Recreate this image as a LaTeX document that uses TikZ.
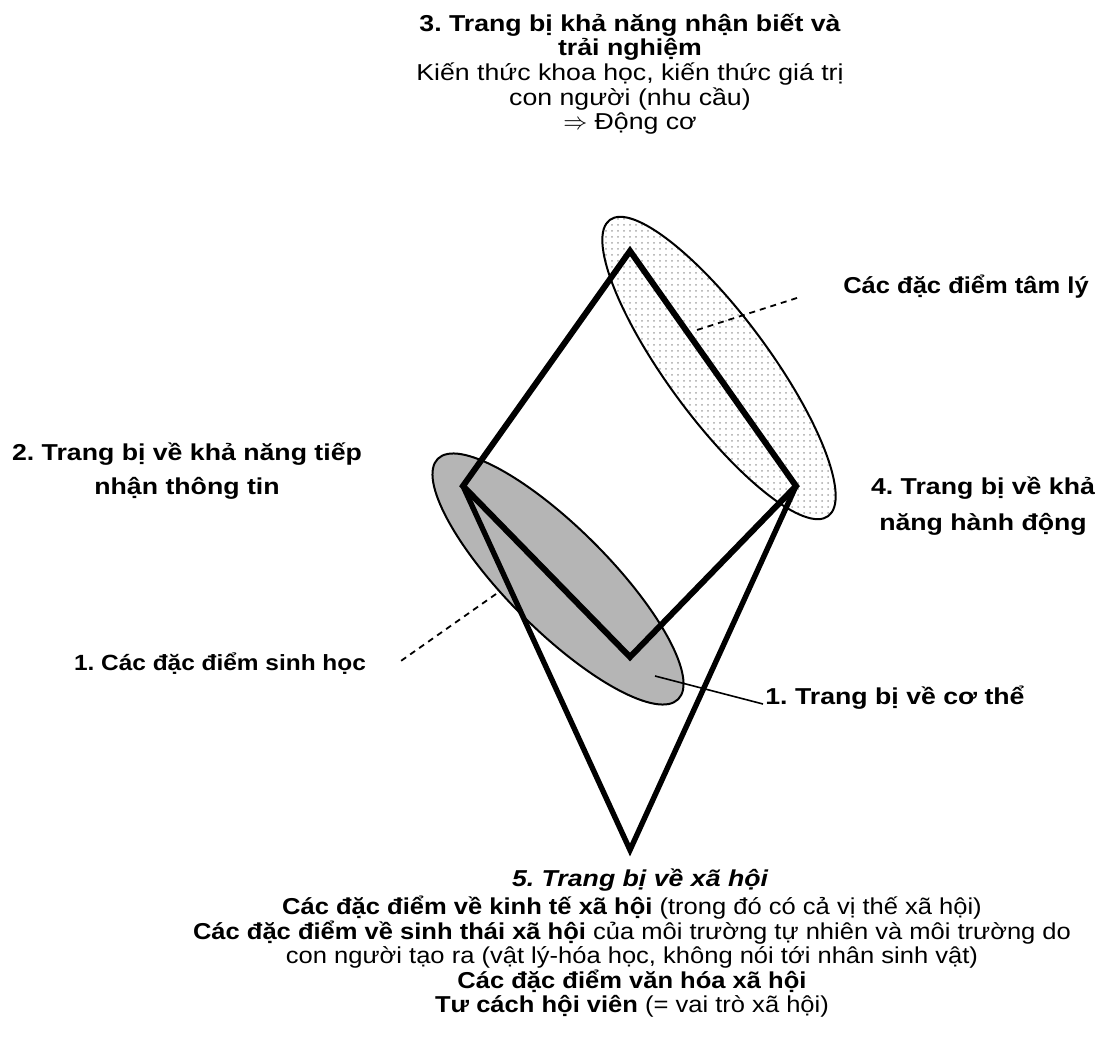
\documentclass[tikz,border=0pt]{standalone}
\usepackage{fontspec}
\setmainfont[FakeStretch=1.16]{Liberation Sans}
\newfontfamily\narrowfont[FakeStretch=1.11]{Liberation Sans}
\usetikzlibrary{patterns,positioning}
\frenchspacing

\begin{document}
\begin{tikzpicture}[x=0.5pt,y=-0.5pt,
    lbl/.style={font=\fontsize{11.5}{12.3}\selectfont, align=center, inner sep=0pt},
    blbl/.style={lbl, font=\fontsize{11.5}{12.3}\selectfont\bfseries},
    nlbl/.style={lbl, font=\narrowfont\fontsize{11.5}{12.3}\selectfont},
    frame/.style={line width=3pt, line join=miter},
    lead/.style={line width=0.9pt, dash pattern=on 3pt off 2.5pt}]
    \useasboundingbox (0,0) rectangle (1102,1053);

    % Ellipses (drawn first, under the frame)
    \draw[line width=1pt, pattern=dots, pattern color=gray!70,
        rotate around={-53.6:(719,368)}] (719,368) ellipse [x radius=184, y radius=51];
    \draw[line width=1pt, fill=gray!58,
        rotate around={-45:(558,579)}] (558,579) ellipse [x radius=170, y radius=51];

    % Corners of the frame
    \coordinate (T) at (630,251);
    \coordinate (L) at (463,486);
    \coordinate (R) at (796,486);
    \coordinate (M) at (630,657);
    \coordinate (S) at (630,850);

    % Diamond and triangle
    \draw[frame] (T) -- (R) -- (M) -- (L) -- cycle;
    \draw[frame, line width=2.7pt] (L) -- (S) -- (R);

    % Labels
    \node[lbl] (top) at (630,74) {\textbf{3. Trang bị khả năng nhận biết và}\\
        \textbf{trải nghiệm}\\
        Kiến thức khoa học, kiến thức giá trị\\
        con người (nhu cầu)\\
        $\Rightarrow$ Động cơ};
    \node[nlbl, font=\narrowfont\fontsize{11.5}{12.3}\selectfont\bfseries] (psy) at (966,287) {Các đặc điểm tâm lý};
    \node[blbl] (info) at (187,471) {2. Trang bị về khả năng tiếp\\[5pt] nhận thông tin};
    \node[blbl] (act) at (983,506) {4. Trang bị về khả\\[6pt] năng hành động};
    \node[nlbl, font=\narrowfont\fontsize{11}{12}\selectfont\bfseries] (bio) at (220,664) {1. Các đặc điểm sinh học};
    \node[blbl, anchor=west] (body) at (765,698) {1. Trang bị về cơ thể};
    \node[blbl, font=\fontsize{11.5}{12.3}\selectfont\bfseries\itshape] (soc) at (640,880) {5. Trang bị về xã hội};
    \node[nlbl, below=2pt of soc.south, xshift=-4pt] (socdet) {%
        \textbf{Các đặc điểm về kinh tế xã hội} (trong đó có cả vị thế xã hội)\\
        \textbf{Các đặc điểm về sinh thái xã hội} của môi trường tự nhiên và môi trường do\\
        con người tạo ra (vật lý-hóa học, không nói tới nhân sinh vật)\\
        \textbf{Các đặc điểm văn hóa xã hội}\\
        \textbf{Tư cách hội viên} (= vai trò xã hội)};

    % Leader lines
    \coordinate (psyin) at (697,330);
    \coordinate (psyout) at (800,297);
    \draw[lead] (psyin) -- (psyout);
    \coordinate (bioin) at (496,594);
    \coordinate (bioout) at (398,663);
    \draw[lead] (bioin) -- (bioout);
    \coordinate (bodyin) at (655,676);
    \draw[line width=0.8pt] (bodyin) -- ([xshift=-1pt,yshift=-3pt]body.west);
\end{tikzpicture}
\end{document}
